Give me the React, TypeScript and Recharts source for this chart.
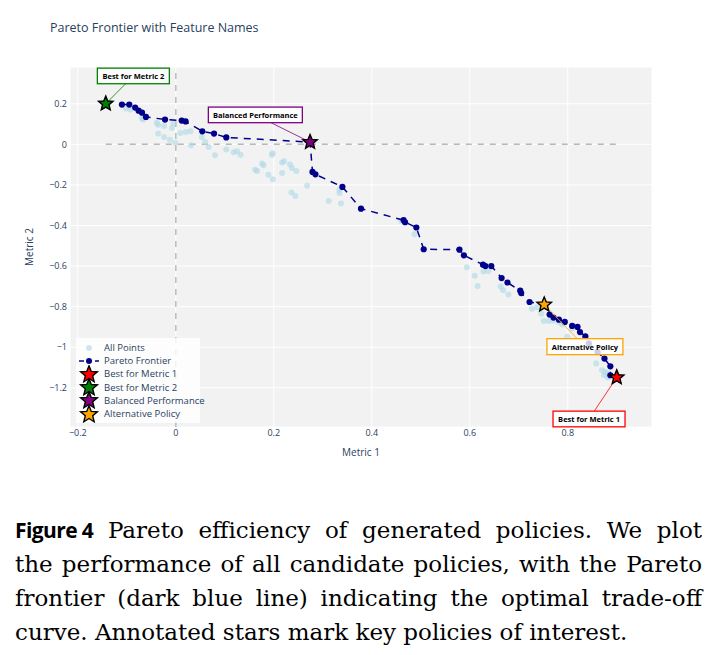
import React from 'react';
import {
  ScatterChart,
  Scatter,
  XAxis,
  YAxis,
  CartesianGrid,
  ReferenceLine,
  Legend,
  Label,
} from 'recharts';

// every candidate policy (Metric 1, Metric 2)
const allX = [
  -0.102, -0.093, -0.069, -0.066, -0.039, -0.036, -0.024, -0.008, -0.005, -0.036,
  -0.024, -0.012, -0.001, 0.009, 0.02, 0.03, 0.031, 0.053, 0.06, 0.067,
  0.08, 0.103, 0.118, 0.125, 0.132, 0.162, 0.166, 0.176, 0.179, 0.189,
  0.198, 0.196, 0.198, 0.217, 0.221, 0.217, 0.233, 0.237, 0.246, 0.236,
  0.244, 0.268, 0.312, 0.334, 0.334, 0.337, 0.46, 0.487, 0.594, 0.61,
  0.616, 0.628, 0.638, 0.663, 0.668, 0.679, 0.727, 0.738, 0.746, 0.751,
  0.761, 0.77, 0.782, 0.789, 0.799, 0.809, 0.858, 0.87, 0.877, 0.882,
  0.874, 0.882,
];
const allY = [
  0.176, 0.171, 0.127, 0.122, 0.106, 0.096, 0.09, 0.08, 0.102, 0.053,
  0.036, 0.023, 0.008, 0.056, 0.061, 0.064, -0.005, 0.036, 0.011, -0.013,
  -0.054, -0.025, -0.039, -0.034, -0.052, -0.125, -0.131, -0.095, -0.103, -0.15,
  -0.172, -0.052, -0.044, -0.09, -0.084, -0.141, -0.1, -0.117, -0.132, -0.238,
  -0.255, -0.204, -0.279, -0.224, -0.24, -0.292, -0.378, -0.443, -0.606, -0.648,
  -0.698, -0.627, -0.624, -0.701, -0.719, -0.74, -0.81, -0.803, -0.835, -0.871,
  -0.871, -0.869, -0.877, -0.888, -0.948, -0.908, -1.08, -1.113, -1.122, -1.13,
  -1.138, -1.149,
];

// pareto-optimal subset, in order along the front
const frontierX = [
  -0.11, -0.095, -0.083, -0.076, -0.069, -0.061, -0.022, 0.012, 0.02, 0.054,
  0.078, 0.103, 0.274, 0.279, 0.285, 0.34, 0.378, 0.465, 0.468, 0.491,
  0.506, 0.579, 0.588, 0.627, 0.632, 0.644, 0.665, 0.677, 0.703, 0.705,
  0.722, 0.752, 0.763, 0.771, 0.782, 0.794, 0.809, 0.82, 0.825, 0.836,
  0.843, 0.861, 0.875, 0.887, 0.887, 0.9,
];
const frontierY = [
  0.196, 0.196, 0.181, 0.166, 0.156, 0.135, 0.122, 0.117, 0.113, 0.064,
  0.053, 0.034, 0.011, -0.136, -0.148, -0.21, -0.317, -0.374, -0.384, -0.41,
  -0.517, -0.519, -0.547, -0.593, -0.6, -0.6, -0.659, -0.681, -0.721, -0.733,
  -0.777, -0.79, -0.839, -0.854, -0.864, -0.875, -0.895, -0.9, -0.925, -0.946,
  -0.981, -1.023, -1.056, -1.094, -1.138, -1.149,
];

// highlighted policies
const highlightNames = ['Best for Metric 1', 'Best for Metric 2', 'Balanced Performance', 'Alternative Policy'];
const highlightX = [0.9, -0.143, 0.274, 0.752];
const highlightY = [-1.149, 0.2, 0.011, -0.79];
const highlightColors = ['red', 'green', 'purple', 'orange'];

const xTicks = [-0.2, 0, 0.2, 0.4, 0.6, 0.8];
const yTicks = [-1.2, -1, -0.8, -0.6, -0.4, -0.2, 0, 0.2];

// callout placement: box centre offset from the star (px) and box size
const callouts = [
  { dx: -27.7, dy: 41.5, w: 72, h: 15.7 },
  { dx: 27.6, dy: -27.8, w: 72, h: 15.6 },
  { dx: -54.7, dy: -27.2, w: 94, h: 15.6 },
  { dx: 40.7, dy: 42, w: 76, h: 16 },
];

const allData = allX.map((x, i) => ({ x, y: allY[i] }));
const frontierData = frontierX.map((x, i) => ({ x, y: frontierY[i] }));

const FONT = '"Open Sans", Verdana, Arial, sans-serif';
const INK = '#2a3f5f';
const PLOT_BG = '#f2f2f2';
const LIGHT = '#add8e6';
const DARK = '#00008b';

const fmt = (v: number) => (v < 0 ? '\u2212' + Math.abs(v) : String(v));

function starPath(cx: number, cy: number, R: number, r: number) {
  let d = '';
  for (let i = 0; i < 10; i++) {
    const rad = i % 2 === 0 ? R : r;
    const a = -Math.PI / 2 + (i * Math.PI) / 5;
    d += (i ? 'L' : 'M') + (cx + rad * Math.cos(a)).toFixed(2) + ',' + (cy + rad * Math.sin(a)).toFixed(2);
  }
  return d + 'Z';
}

const lightDot = (p: any) => <circle cx={p.cx} cy={p.cy} r={3} fill={LIGHT} fillOpacity={0.6} />;
const darkDot = (p: any) => <circle cx={p.cx} cy={p.cy} r={3.1} fill={DARK} />;

function makeStar(idx: number) {
  const color = highlightColors[idx];
  const c = callouts[idx];
  const text = highlightNames[idx];
  return (p: any) => {
    const { cx, cy } = p;
    const bx = cx + c.dx;
    const by = cy + c.dy;
    // leader line leaves the box at its edge
    const s = Math.min(c.w / 2 / Math.abs(c.dx), c.h / 2 / Math.abs(c.dy));
    const sx = bx - c.dx * s;
    const sy = by - c.dy * s;
    return (
      <g>
        <line x1={sx} y1={sy} x2={cx} y2={cy} stroke={color} strokeWidth={0.8} />
        <path d={starPath(cx, cy, 7.6, 3.4)} fill={color} stroke="#000" strokeWidth={1.4} />
        <rect
          x={bx - c.w / 2}
          y={by - c.h / 2}
          width={c.w}
          height={c.h}
          fill="#fff"
          fillOpacity={0.8}
          stroke={color}
          strokeWidth={1.3}
        />
        <text
          x={bx}
          y={by}
          textAnchor="middle"
          dominantBaseline="central"
          fontFamily={FONT}
          fontWeight={700}
          fontSize={7.5}
          fill="#000"
        >
          {text}
        </text>
      </g>
    );
  };
}

const LegendBox = () => {
  const rows = ['All Points', 'Pareto Frontier', ...highlightNames];
  return (
    <div
      style={{
        background: 'rgba(255,255,255,0.8)',
        width: 124,
        height: 85,
        paddingTop: 3,
        boxSizing: 'border-box',
        fontFamily: FONT,
        fontSize: 9.5,
        color: INK,
      }}
    >
      {rows.map((name, i) => (
        <div key={name} style={{ display: 'flex', alignItems: 'center', height: 13.2 }}>
          <svg width={28} height={18} style={{ flex: 'none' }}>
            {i === 0 && <circle cx={13} cy={9} r={3} fill={LIGHT} fillOpacity={0.6} />}
            {i === 1 && (
              <g>
                <line x1={3} y1={9} x2={23} y2={9} stroke={DARK} strokeWidth={1.5} strokeDasharray="5 3" />
                <circle cx={13} cy={9} r={3} fill={DARK} />
              </g>
            )}
            {i > 1 && (
              <path d={starPath(13, 9.6, 8.8, 3.9)} fill={highlightColors[i - 2]} stroke="#000" strokeWidth={1.4} />
            )}
          </svg>
          <span style={{ whiteSpace: 'nowrap' }}>{name}</span>
        </div>
      ))}
    </div>
  );
};

const captionLine: React.CSSProperties = {
  textAlign: 'justify',
  textAlignLast: 'justify',
  whiteSpace: 'nowrap',
};

export default function App() {
  return (
    <div style={{ position: 'relative', width: 710, height: 655, background: '#fff', overflow: 'hidden' }}>
      <style>{'body{margin:0}'}</style>
      <div
        style={{
          position: 'absolute',
          left: 50,
          top: 19,
          fontFamily: FONT,
          fontSize: 12.5,
          color: INK,
          whiteSpace: 'nowrap',
        }}
      >
        Pareto Frontier with Feature Names
      </div>
      <ScatterChart width={710} height={470} margin={{ top: 67, right: 58, bottom: 0, left: 0 }}>
        <CartesianGrid fill={PLOT_BG} stroke="#fff" strokeWidth={1} />
        <XAxis
          type="number"
          dataKey="x"
          domain={[-0.216, 0.972]}
          ticks={xTicks}
          tickFormatter={fmt}
          height={43}
          axisLine={false}
          tickLine={false}
          tickSize={0}
          tickMargin={3}
          tick={{ fill: INK, fontSize: 9, fontFamily: FONT }}
        >
          <Label
            content={(p: any) => (
              <text
                x={p.viewBox.x + p.viewBox.width / 2}
                y={452}
                textAnchor="middle"
                dominantBaseline="central"
                fontFamily={FONT}
                fontSize={10}
                fill={INK}
              >
                Metric 1
              </text>
            )}
          />
        </XAxis>
        <YAxis
          type="number"
          dataKey="y"
          domain={[-1.393, 0.381]}
          ticks={yTicks}
          tickFormatter={fmt}
          width={70}
          axisLine={false}
          tickLine={false}
          tickSize={0}
          tickMargin={3}
          tick={{ fill: INK, fontSize: 9, fontFamily: FONT }}
        >
          <Label
            content={(p: any) => {
              const cy = p.viewBox.y + p.viewBox.height / 2;
              return (
                <text
                  x={29}
                  y={cy}
                  transform={`rotate(-90 29 ${cy})`}
                  textAnchor="middle"
                  dominantBaseline="central"
                  fontFamily={FONT}
                  fontSize={10}
                  fill={INK}
                >
                  Metric 2
                </text>
              );
            }}
          />
        </YAxis>
        <ReferenceLine x={0} stroke="#808080" strokeOpacity={0.55} strokeWidth={1.4} strokeDasharray="6 6" />
        <ReferenceLine
          segment={[
            { x: highlightX[1], y: 0 },
            { x: highlightX[0], y: 0 },
          ]}
          stroke="#808080"
          strokeOpacity={0.55}
          strokeWidth={1.4}
          strokeDasharray="6 6"
        />
        <Scatter name="All Points" data={allData} shape={lightDot} isAnimationActive={false} />
        <Scatter
          name="Pareto Frontier"
          data={frontierData}
          shape={darkDot}
          line={{ stroke: DARK, strokeWidth: 1.5, strokeDasharray: '7 6' }}
          lineType="joint"
          isAnimationActive={false}
        />
        {highlightNames.map((name, i) => (
          <Scatter
            key={name}
            name={name}
            data={[{ x: highlightX[i], y: highlightY[i] }]}
            shape={makeStar(i)}
            isAnimationActive={false}
          />
        ))}
        <Legend
          layout="vertical"
          align="center"
          verticalAlign="middle"
          wrapperStyle={{ left: 76, top: 338, width: 124, height: 85 }}
          content={() => <LegendBox />}
        />
      </ScatterChart>
      <div
        style={{
          position: 'absolute',
          left: 15,
          top: 513,
          width: 687,
          fontFamily: '"DejaVu Serif", serif',
          fontSize: 23,
          lineHeight: '34px',
          color: '#000',
        }}
      >
        <div style={captionLine}>
          <span
            style={{
              display: 'inline-block',
              fontFamily: '"Open Sans", sans-serif',
              fontWeight: 700,
              fontSize: 21,
              letterSpacing: -0.6,
            }}
          >
            Figure 4
          </span>{' '}
          Pareto efficiency of generated policies. We plot
        </div>
        <div style={captionLine}>the performance of all candidate policies, with the Pareto</div>
        <div style={captionLine}>frontier (dark blue line) indicating the optimal trade-off</div>
        <div>curve. Annotated stars mark key policies of interest.</div>
      </div>
    </div>
  );
}
